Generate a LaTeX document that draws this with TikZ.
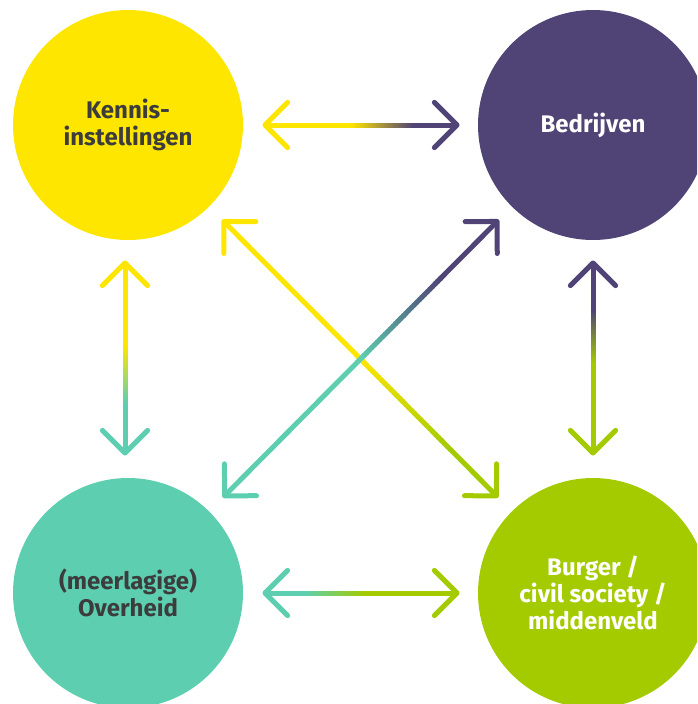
\documentclass[tikz,border=0pt]{standalone}
\usepackage{fontspec}
\setmainfont{Fira Sans}
\usetikzlibrary{calc}
\definecolor{kyel}{HTML}{FFE600}
\definecolor{kpur}{HTML}{4F4475}
\definecolor{ktea}{HTML}{5DCFB0}
\definecolor{kgrn}{HTML}{A3CB00}
\definecolor{ktxt}{HTML}{3C3C3C}
\tikzset{
  circ/.style={circle, minimum size=230pt, inner sep=0pt, align=center,
    font=\fontsize{24}{27}\selectfont\bfseries},
  shaft/.style={line width=5pt, line cap=butt},
  head/.style={line width=5pt, line cap=round, line join=round},
}
\newcommand{\gradarrow}[6]{%
  \draw[shaft,#3] (#1) -- ($(#1)!#5!(#2)$);
  \draw[shaft,#4] ($(#1)!#6!(#2)$) -- (#2);
  \foreach \k in {0,...,29}{%
    \pgfmathsetmacro\ta{#5+(#6-#5)*\k/30}%
    \pgfmathsetmacro\tb{#5+(#6-#5)*(\k+1.4)/30}%
    \pgfmathtruncatemacro\pc{100-100*(\k+0.5)/30}%
    \colorlet{mixc}{#3!\pc!#4}%
    \draw[shaft,mixc] ($(#1)!\ta!(#2)$) -- ($(#1)!\tb!(#2)$);
  }%
  \draw[head,#3] ($(#1)!32pt!45:(#2)$) -- (#1) -- ($(#1)!32pt!-45:(#2)$);
  \draw[head,#4] ($(#2)!32pt!45:(#1)$) -- (#2) -- ($(#2)!32pt!-45:(#1)$);
}
\begin{document}
\begin{tikzpicture}[x=1pt,y=-1pt]
\useasboundingbox (0,0) rectangle (697,704);
\clip (0,0) rectangle (697,704);
\node[circ, fill=kyel, text=ktxt] (K) at (128,125) {Kennis-\\instellingen};
\node[circ, fill=kpur, text=white] (B) at (593,125) {Bedrijven};
\node[circ, fill=ktea, text=ktxt] (O) at (128,593) {(meerlagige)\\Overheid};
\node[circ, fill=kgrn, text=white] (G) at (593,593) {Burger /\\civil society /\\middenveld};
% tip coordinates
\coordinate (kb1) at ($(K.center)!137pt!(B.center)$);
\coordinate (kb2) at ($(B.center)!136pt!(K.center)$);
\coordinate (og1) at ($(O.center)!137pt!(G.center)$);
\coordinate (og2) at ($(G.center)!136pt!(O.center)$);
\coordinate (ko1) at ($(K.center)!138pt!(O.center)+(-3,0)$);
\coordinate (ko2) at ($(O.center)!140pt!(K.center)+(-3,0)$);
\coordinate (bg1) at ($(B.center)!138pt!(G.center)$);
\coordinate (bg2) at ($(G.center)!140pt!(B.center)$);
\coordinate (kg1) at ($(K.center)!136pt!(G.center)$);
\coordinate (kg2) at ($(G.center)!137pt!(K.center)$);
\coordinate (ob1) at ($(O.center)!137pt!(B.center)$);
\coordinate (ob2) at ($(B.center)!136pt!(O.center)$);
% connectors
\gradarrow{kb1}{kb2}{kyel}{kpur}{0.45}{0.77}
\gradarrow{og1}{og2}{ktea}{kgrn}{0.21}{0.52}
\gradarrow{ko1}{ko2}{kyel}{ktea}{0.44}{0.74}
\gradarrow{bg1}{bg2}{kpur}{kgrn}{0.25}{0.53}
\gradarrow{kg1}{kg2}{kyel}{kgrn}{0.50}{0.83}
\gradarrow{ob1}{ob2}{ktea}{kpur}{0.50}{0.79}
\end{tikzpicture}
\end{document}
